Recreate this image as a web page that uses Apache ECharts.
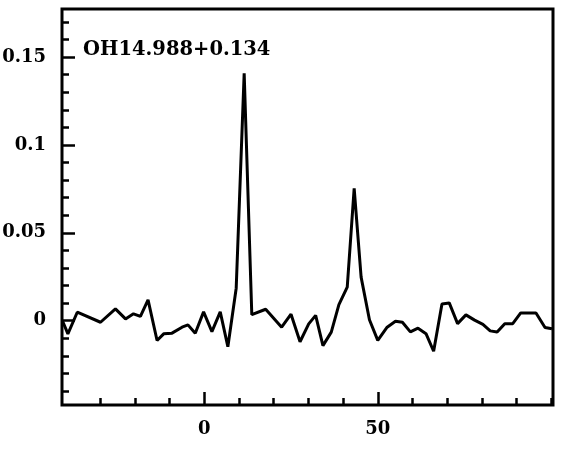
<!DOCTYPE html>
<html>
<head>
<meta charset="utf-8">
<script src="https://cdn.jsdelivr.net/npm/echarts@6/dist/echarts.min.js"></script>
<style>
html,body{margin:0;padding:0;background:#fff;}
#chart{width:562px;height:454px;}
</style>
</head>
<body>
<div id="chart"></div>
<script>
const titleText = "OH14.988+0.134";
const velocity = [-40.9,-39.3,-36.6,-29.9,-25.6,-22.7,-20.4,-18.4,-16.2,-13.6,-11.7,-9.3,-6.4,-4.7,-2.6,-0.2,2.2,4.6,6.8,9.2,11.5,13.7,17.7,22.3,25.0,27.6,30.1,32.1,34.2,36.6,38.8,41.2,43.2,45.2,47.6,50.0,52.7,55.1,57.1,59.4,61.6,63.9,66.1,68.5,70.6,73.0,75.4,77.9,80.3,82.4,84.4,86.6,88.9,91.2,93.4,95.6,98.2,100.2];
const flux = [0.0001,-0.0075,0.0048,-0.0009,0.0067,0.0010,0.0039,0.0024,0.0118,-0.0113,-0.0075,-0.0071,-0.0037,-0.0024,-0.0072,0.0050,-0.0062,0.0050,-0.0148,0.0185,0.1408,0.0034,0.0065,-0.0037,0.0037,-0.0120,-0.0018,0.0030,-0.0142,-0.0065,0.0091,0.0191,0.0753,0.0248,0.0005,-0.0112,-0.0037,-0.0003,-0.0009,-0.0064,-0.0043,-0.0074,-0.0174,0.0095,0.0101,-0.0017,0.0033,0.0003,-0.0021,-0.0058,-0.0065,-0.0017,-0.0017,0.0044,0.0044,0.0044,-0.0039,-0.0046];
const xMajorTicks = [0, 50];
const xMinorTicks = [-30,-20,-10,10,20,30,40,60,70,80,90,100];
const yMajorTicks = [0, 0.05, 0.1, 0.15];
const yMinorTicks = [-0.04,-0.03,-0.02,-0.01,0.01,0.02,0.03,0.04,0.06,0.07,0.08,0.09,0.11,0.12,0.13,0.14,0.16,0.17];
const xRange = [-41, 100.5];
const yRange = [-0.048, 0.1774];

const fontFamily = "DejaVu Serif";
const lblStyle = {color:'#000', fontFamily: fontFamily, fontWeight:'bold', fontSize:18};

const chart = echarts.init(document.getElementById('chart'), null, {renderer:'canvas'});
const data = velocity.map((v,i)=>[v, flux[i]]);
const axLine = {show:false, onZero:false};
chart.setOption({
  animation:false,
  backgroundColor:'#fff',
  title:{text:titleText, left:78, top:35, padding:5, textStyle:Object.assign({}, lblStyle, {fontSize:19.5})},
  grid:{left:62, right:9, top:9, bottom:49, containLabel:false, outerBoundsMode:'none', show:true, borderColor:'#000', borderWidth:3, backgroundColor:'transparent'},
  xAxis:[
    {type:'value', min:xRange[0], max:xRange[1], position:'bottom',
     axisLine:axLine, splitLine:{show:false},
     axisTick:{show:true, inside:true, length:7, customValues:xMinorTicks, lineStyle:{color:'#000', width:2.5}},
     axisLabel:{show:false}},
    {type:'value', min:xRange[0], max:xRange[1], position:'bottom',
     axisLine:axLine, splitLine:{show:false},
     axisTick:{show:true, inside:true, length:13, customValues:xMajorTicks, lineStyle:{color:'#000', width:2.5}},
     axisLabel:Object.assign({show:true, margin:15, customValues:xMajorTicks, formatter:v=>String(v)}, lblStyle)}
  ],
  yAxis:[
    {type:'value', min:yRange[0], max:yRange[1], position:'left',
     axisLine:axLine, splitLine:{show:false},
     axisTick:{show:true, inside:true, length:7, customValues:yMinorTicks, lineStyle:{color:'#000', width:2.5}},
     axisLabel:{show:false}},
    {type:'value', min:yRange[0], max:yRange[1], position:'left',
     axisLine:axLine, splitLine:{show:false},
     axisTick:{show:true, inside:true, length:13, customValues:yMajorTicks, lineStyle:{color:'#000', width:2.5}},
     axisLabel:Object.assign({show:true, margin:16, customValues:yMajorTicks, formatter:v=>String(v)}, lblStyle)}
  ],
  series:[{type:'line', xAxisIndex:0, yAxisIndex:0, data:data, showSymbol:false, symbol:'none',
    lineStyle:{color:'#000', width:3}, clip:true}]
});
</script>
</body>
</html>
